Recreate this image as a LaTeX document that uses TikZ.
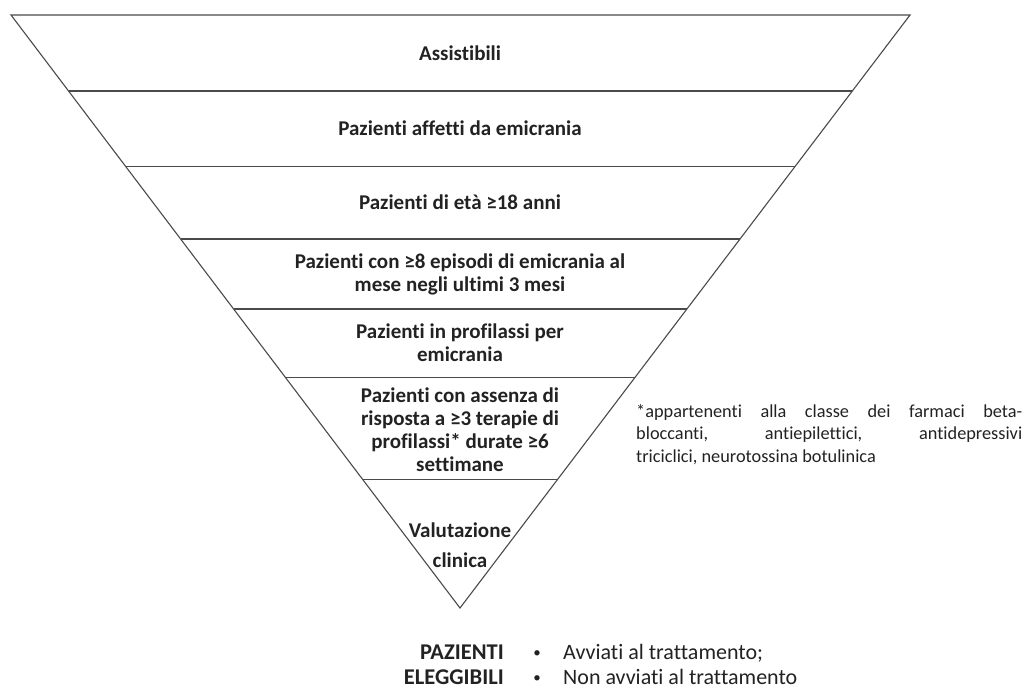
\documentclass[tikz,border=0pt]{standalone}
\usepackage{fontspec}
\setmainfont{Carlito}[Ligatures=NoCommon]
\usetikzlibrary{calc}
\definecolor{ink}{HTML}{222222}
\definecolor{rule}{HTML}{4A4A4A}
\begin{document}
\begin{tikzpicture}[x=1pt,y=-1pt,
  edge/.style={draw=rule, line width=1.1pt, line join=miter},
  layer/.style={font=\bfseries\fontsize{21}{23}\selectfont, text=ink, align=center, inner sep=0pt},
  notetext/.style={font=\fontsize{18.3}{22.5}\selectfont, text=ink, inner sep=0pt},
  biglabel/.style={font=\bfseries\fontsize{22.5}{25}\selectfont, text=ink, inner sep=0pt},
  bigtext/.style={font=\fontsize{22}{25}\selectfont, text=ink, inner sep=0pt},
  dot/.style={font=\fontsize{15}{15}\selectfont, text=ink, inner sep=0pt}]
\useasboundingbox (0,0) rectangle (1032,692);

% inverted triangle
\coordinate (TL) at (11,15);
\coordinate (TR) at (910,15);
\coordinate (A) at (460,608);
\draw[edge] (TL) -- (TR) -- (A) -- cycle;

% horizontal dividers between the layers
\foreach \yy in {91,166.5,239,309,377.5,479.5} {
  \draw[edge] ($(TL)!{(\yy-15)/593}!(A)$) -- ($(TR)!{(\yy-15)/593}!(A)$);
}

% layer labels
\node[layer] (l1) at (460,53) {Assistibili};
\node[layer] (l2) at (460,128.5) {Pazienti affetti da emicrania};
\node[layer] (l3) at (460,202.5) {Pazienti di età ≥18 anni};
\node[layer] (l4) at (460,274) {Pazienti con ≥8 episodi di emicrania al\\mese negli ultimi 3 mesi};
\node[layer] (l5) at (460,343) {Pazienti in profilassi per\\emicrania};
\node[layer] (l6) at (460,430) {Pazienti con assenza di\\risposta a ≥3 terapie di\\profilassi* durate ≥6\\settimane};
\node[layer] (l7) at (460,545) {Valutazione\\[7pt]clinica};

% footnote
\node[notetext, anchor=north west, text width=386pt, align=justify] (note) at (636,404)
  {*appartenenti alla classe dei farmaci beta-\linebreak bloccanti, antiepilettici, antidepressivi\linebreak triciclici, neurotossina botulinica};

% outcome legend
\node[biglabel, anchor=base east] (p1) at (504,659) {PAZIENTI};
\node[biglabel, anchor=base east] (p2) at (504,684) {ELEGGIBILI};
\node[dot, anchor=base] (d1) at (537,657) {•};
\node[dot, anchor=base] (d2) at (537,682) {•};
\node[bigtext, anchor=base west] (t1) at (563,659) {Avviati al trattamento;};
\node[bigtext, anchor=base west] (t2) at (563,684) {Non avviati al trattamento};
\end{tikzpicture}
\end{document}
